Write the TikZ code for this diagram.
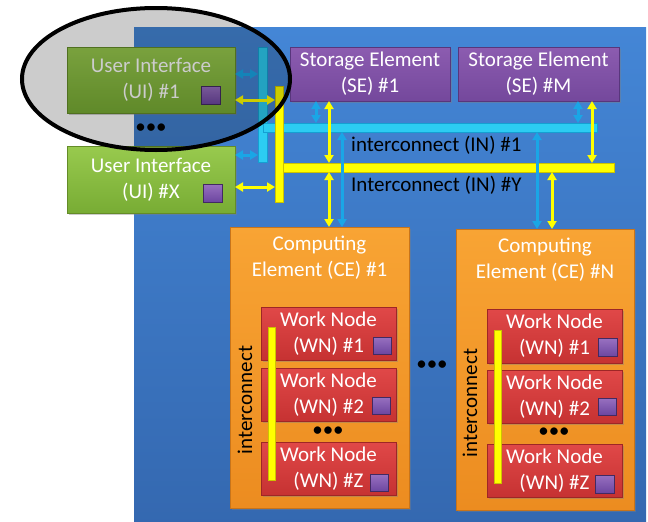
\documentclass[tikz,border=0pt]{standalone}
\usepackage{fontspec}
\setmainfont{Carlito}
\usetikzlibrary{shadows,arrows.meta}
\definecolor{bgtop}{RGB}{68,134,214}
\definecolor{bgbot}{RGB}{52,104,176}
\definecolor{gtop}{RGB}{152,202,78}
\definecolor{gbot}{RGB}{120,172,52}
\definecolor{gbrd}{RGB}{100,140,40}
\definecolor{ptop}{RGB}{140,92,176}
\definecolor{pbot}{RGB}{116,72,156}
\definecolor{pbrd}{RGB}{88,54,124}
\definecolor{otop}{RGB}{248,164,52}
\definecolor{obot}{RGB}{236,140,32}
\definecolor{obrd}{RGB}{200,116,26}
\definecolor{rtop}{RGB}{224,72,72}
\definecolor{rbot}{RGB}{198,50,50}
\definecolor{rbrd}{RGB}{158,38,38}
\definecolor{sqtop}{RGB}{152,112,192}
\definecolor{sqbot}{RGB}{108,70,160}
\definecolor{sqbrd}{RGB}{66,42,98}
\definecolor{cbar}{RGB}{44,204,242}
\definecolor{cbarbrd}{RGB}{20,160,210}
\definecolor{carr}{RGB}{26,166,230}
\definecolor{ybar}{RGB}{255,255,0}
\definecolor{ybarbrd}{RGB}{205,195,0}
\begin{document}
\begin{tikzpicture}[x=1pt,y=-1pt,
  txt/.style={font=\fontsize{21}{26}\selectfont},
  box/.style={rectangle, inner sep=0pt, outer sep=0pt, align=center, text=white, txt,
    line width=0.8pt, drop shadow={shadow xshift=2pt,shadow yshift=-2pt,opacity=0.4}},
  uibox/.style={box, top color=gtop, bottom color=gbot, draw=gbrd},
  sebox/.style={box, top color=ptop, bottom color=pbot, draw=pbrd},
  cebox/.style={box, top color=otop, bottom color=obot, draw=obrd},
  wnbox/.style={box, top color=rtop, bottom color=rbot, draw=rbrd},
  titletext/.style={inner sep=0pt, align=center, text=white, txt},
  sqbox/.style={rectangle, inner sep=0pt, outer sep=0pt, top color=sqtop, bottom color=sqbot, draw=sqbrd, line width=0.6pt},
  cbarbox/.style={rectangle, inner sep=0pt, outer sep=0pt, fill=cbar, draw=cbarbrd, line width=0.6pt},
  ybarbox/.style={rectangle, inner sep=0pt, outer sep=0pt, fill=ybar, draw=ybarbrd, line width=0.6pt},
  carrow/.style={{Triangle[width=9pt,length=8pt]}-{Triangle[width=9pt,length=8pt]}, draw=carr, line width=3pt},
  yarrow/.style={{Triangle[width=9pt,length=8pt]}-{Triangle[width=9pt,length=8pt]}, draw=ybar, line width=3pt},
  dots/.style={font=\fontsize{21}{21}\selectfont, text=black, inner sep=0pt},
  lbl/.style={txt, text=black, inner sep=0pt}
]
\useasboundingbox (0,0) rectangle (648,522);
\fill[white] (0,0) rectangle (648,522);
% blue background
\node[rectangle, inner sep=0pt, top color=bgtop, bottom color=bgbot, minimum width=512pt, minimum height=500pt] (bg) at (390,277) {};
% user interfaces
\node[uibox, minimum width=168pt, minimum height=66pt] (ui1) at (151,80) {User Interface\\(UI) \#1};
\node[uibox, minimum width=168pt, minimum height=67pt] (uix) at (151,179.5) {User Interface\\(UI) \#X};
\node[sqbox, minimum width=19pt, minimum height=18pt] (sq1) at (210.5,95) {};
\node[sqbox, minimum width=19pt, minimum height=18pt] (sqx) at (212.5,193) {};
\node[dots] (uidots) at (151,129) {•••};
% storage elements
\node[sebox, minimum width=160pt, minimum height=54pt] (se1) at (370,74) {Storage Element\\(SE) \#1};
\node[sebox, minimum width=161pt, minimum height=54pt] (sem) at (538.5,74) {Storage Element\\(SE) \#M};
% computing elements
\node[cebox, minimum width=179pt, minimum height=281pt] (ce1) at (319.5,367.5) {};
\node[titletext] (ce1t) at (319.5,257.5) {Computing\\Element (CE) \#1};
\node[cebox, minimum width=178pt, minimum height=281pt] (cen) at (545,369.5) {};
\node[titletext] (cent) at (545,259.5) {Computing\\Element (CE) \#N};
% work nodes CE1
\node[wnbox, minimum width=135pt, minimum height=53pt] (w11) at (328.5,333.5) {Work Node\\(WN) \#1};
\node[wnbox, minimum width=135pt, minimum height=53pt] (w12) at (328.5,394.5) {Work Node\\(WN) \#2};
\node[dots] (w1dots) at (328,432) {•••};
\node[wnbox, minimum width=135pt, minimum height=53pt] (w1z) at (328.5,468.5) {Work Node\\(WN) \#Z};
\node[sqbox, minimum width=18pt, minimum height=17pt] (s11) at (382,345.5) {};
\node[sqbox, minimum width=18pt, minimum height=17pt] (s12) at (381,405.5) {};
\node[sqbox, minimum width=18pt, minimum height=17pt] (s1z) at (379,483) {};
\node[ybarbox, minimum width=7pt, minimum height=153pt] (yb1) at (271.5,403.5) {};
\node[lbl, rotate=90] (ic1) at (245,400) {interconnect};
% work nodes CEN
\node[wnbox, minimum width=135pt, minimum height=54pt] (wn1) at (554.5,336) {Work Node\\(WN) \#1};
\node[wnbox, minimum width=135pt, minimum height=53pt] (wn2) at (554.5,396.5) {Work Node\\(WN) \#2};
\node[dots] (wndots) at (554,433) {•••};
\node[wnbox, minimum width=135pt, minimum height=53pt] (wnz) at (554.5,470.5) {Work Node\\(WN) \#Z};
\node[sqbox, minimum width=19pt, minimum height=18pt] (sn1) at (607.5,347.5) {};
\node[sqbox, minimum width=18pt, minimum height=17pt] (sn2) at (607,406.5) {};
\node[sqbox, minimum width=19pt, minimum height=18pt] (snz) at (604.5,484) {};
\node[ybarbox, minimum width=7pt, minimum height=153pt] (ybn) at (497.5,406.5) {};
\node[lbl, rotate=90] (icn) at (470,403) {interconnect};
\node[dots] (cedots) at (432,366) {•••};
% interconnect bars
\node[cbarbox, minimum width=9pt, minimum height=115pt] (cbv) at (262.5,104.5) {};
\node[cbarbox, minimum width=334pt, minimum height=9pt] (cbh) at (430,127.5) {};
\node[ybarbox, minimum width=8pt, minimum height=116pt] (ybv) at (279,144) {};
\node[ybarbox, minimum width=331pt, minimum height=9pt] (ybh) at (448.5,167.5) {};
\node[lbl, anchor=west] (in1) at (351,145) {interconnect (IN) \#1};
\node[lbl, anchor=west] (iny) at (351,185) {Interconnect (IN) \#Y};
% arrows UI
\draw[carrow] (ui1.east |- 0,74) -- (cbv.west |- 0,74);
\draw[yarrow] (ui1.east |- 0,100) -- (ybv.west |- 0,100);
\draw[carrow] (uix.east |- 0,155) -- (cbv.west |- 0,155);
\draw[yarrow] (uix.east |- 0,187) -- (ybv.west |- 0,187);
% arrows SE
\draw[carrow] (se1.south -| 316,0) -- (cbh.north -| 316,0);
\draw[yarrow] (se1.south -| 329,0) -- (ybh.north -| 329,0);
\draw[carrow] (sem.south -| 578,0) -- (cbh.north -| 578,0);
\draw[yarrow] (sem.south -| 592,0) -- (ybh.north -| 592,0);
% arrows CE
\draw[yarrow] (ybh.south -| 329,0) -- (ce1.north -| 329,0);
\draw[carrow] (cbh.south -| 342,0) -- (ce1.north -| 342,0);
\draw[carrow] (cbh.south -| 537,0) -- (cen.north -| 537,0);
\draw[yarrow] (ybh.south -| 552,0) -- (cen.north -| 552,0);
% highlight ellipse
\draw[line width=4pt, draw=black, fill=black, fill opacity=0.2] (156,79) ellipse [x radius=134, y radius=71];
\end{tikzpicture}
\end{document}
